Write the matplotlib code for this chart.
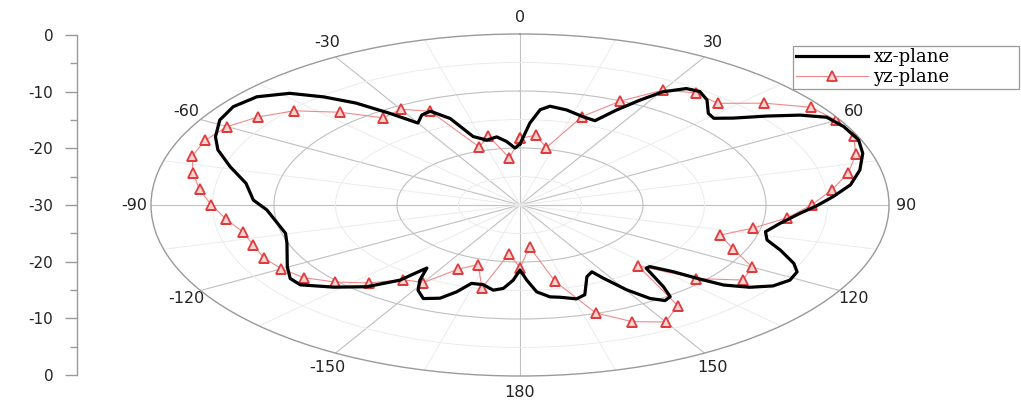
import numpy as np
import matplotlib
matplotlib.use("Agg")
import matplotlib.pyplot as plt
from matplotlib.ticker import FixedLocator

# ---------------- data ----------------
xz_theta_deg = [0, 3.2, 5.6, 8.0, 12.8, 18.4, 22.4, 25.2, 27.9, 30.3, 33.5, 36.3, 39.5, 43.6,
                46.0, 48.7, 52.1, 55.3, 58.3, 62.4, 67.5, 72.0, 77.5, 82.5, 86.7, 90.4, 93.7,
                98.6, 103.2, 107.0, 110.5, 114.7, 117.5, 121.0, 124.6, 127.7, 130.3, 131.6,
                133.2, 135.7, 137.2, 140.9, 142.8, 144.9, 147.2, 149.8, 152.2, 153.5, 156.6,
                161.5, 164.4, 168.7, 171.4, 174.9, 177.6, 180.0, 182.4, 185.3, 188.3, 192.0,
                196.0, 198.7, 201.7, 205.6, 209.0, 211.7, 214.4, 215.6, 216.5, 221.0, 226.4,
                231.9, 235.4, 240.2, 250.5, 255.4, 267.6, 272.3, 279.7, 285.9, 291.5, 295.8,
                301.4, 306.5, 311.6, 316.3, 319.9, 323.3, 326.7, 330.0, 333.2, 336.1, 339.5,
                342.4, 346.7, 351.0, 354.4, 357.7, 360.0]
xz_db = [-19.3, -15.6, -13.2, -12.5, -12.9, -13.7, -14.0, -11.6, -9.2, -7.0, -5.5, -5.3, -6.1,
         -7.8, -8.1, -6.9, -4.6, -2.3, -0.7, -0.3, -0.2, -0.7, -1.7, -2.9, -4.5, -5.9, -7.2,
         -8.6, -9.5, -9.0, -7.4, -5.5, -4.6, -4.4, -5.0, -6.4, -8.3, -10.4, -12.9, -14.9,
         -14.9, -11.5, -9.8, -9.5, -10.5, -12.8, -15.5, -16.9, -16.3, -13.4, -12.9, -13.5,
         -13.7, -14.7, -16.8, -18.6, -16.8, -15.3, -14.9, -15.7, -15.7, -13.9, -12.4, -11.8,
         -12.9, -14.5, -16.6, -15.1, -13.6, -11.0, -9.1, -7.3, -7.3, -8.2, -9.9, -10.3, -9.4,
         -8.3, -7.4, -5.5, -3.6, -2.5, -1.4, -1.0, -1.4, -2.9, -5.2, -7.7, -10.8, -13.4,
         -12.3, -12.0, -13.8, -17.4, -18.3, -17.9, -18.8, -20.0, -19.3]

yz_theta_deg = list(range(0, 366, 6))
yz_db = [-18.3, -17.7, -19.7, -13.7, -10.1, -6.7, -5.7, -6.0, -3.3, -0.8,
         -0.3, -0.3, -1.3, -2.7, -4.5, -6.3, -8.2, -10.6, -12.9, -11.0,
         -8.2, -7.6, -10.7, -15.7, -8.2, -6.3, -7.6, -10.1, -16.3, -22.6,
         -19.0, -21.4, -15.1, -19.0, -17.7, -14.3, -13.8, -11.6, -9.8, -8.3,
         -7.6, -7.2, -7.2, -7.0, -6.0, -4.9, -3.8, -2.8, -2.0, -2.0,
         -2.5, -3.7, -5.3, -8.1, -11.1, -10.6, -12.0, -19.3, -17.6, -21.7,
         -18.3]

angle_ticks = [0, 30, 60, 90, 120, 150, 180, 210, 240, 270, 300, 330]
angle_labels = ["0", "30", "60", "90", "120", "150", "180", "-150", "-120", "-90", "-60", "-30"]
left_ticks = [-30, -20, -10, 0, 10, 20, 30]
left_labels = ["0", "-10", "-20", "-30", "-20", "-10", "0"]
series_names = ["xz-plane", "yz-plane"]

# ---------------- figure ----------------
W, H = 1021, 401
fig = plt.figure(figsize=(W / 100, H / 100), dpi=100)
fig.patch.set_facecolor("white")

cx, cy, rx, ry = 520, 205, 369, 171
ax = fig.add_axes([(cx - rx) / W, (H - cy - ry) / H, 2 * rx / W, 2 * ry / H],
                  projection="polar")
ax.set_aspect("auto")
ax.set_theta_zero_location("N")
ax.set_theta_direction(-1)
ax.set_ylim(-30, 0)

ax.set_thetagrids(angle_ticks, angle_labels)
ax.xaxis.set_minor_locator(FixedLocator(np.deg2rad(np.arange(15, 360, 30))))
ax.set_yticks([-20, -10])
ax.set_yticklabels([])
ax.yaxis.set_minor_locator(FixedLocator([-25, -15, -5]))
ax.grid(True, which="major", color="#c0c0c0", linewidth=0.8)
ax.grid(True, which="minor", color="#ebebeb", linewidth=0.7)
ax.tick_params(axis="x", which="major", pad=5, labelsize=11.5, colors="#222222",
               length=0)
ax.tick_params(axis="x", which="minor", length=0)
ax.tick_params(axis="y", which="both", length=0)
for lab in ax.get_xticklabels():
    lab.set_color("#222222")
ax.spines["polar"].set_color("#9a9a9a")
ax.spines["polar"].set_linewidth(1.0)

l1, = ax.plot(np.deg2rad(xz_theta_deg), xz_db, color="black", linewidth=2.3,
              label=series_names[0], zorder=4, solid_joinstyle="round")
l2, = ax.plot(np.deg2rad(yz_theta_deg), yz_db, color="#f08a8a", linewidth=0.8,
              marker="^", markersize=7, markerfacecolor="#fbd3d3",
              markeredgecolor="#e03a3a", markeredgewidth=1.3,
              label=series_names[1], zorder=3)

leg = fig.legend(handles=[l1, l2], loc="lower left",
                 bbox_to_anchor=(793 / W, (H - 89) / H, (1019 - 793) / W, (89 - 47) / H),
                 mode="expand", frameon=True, fancybox=False, framealpha=1,
                 edgecolor="#999999", handlelength=4.0, handletextpad=0.3,
                 borderpad=0.15, labelspacing=0.1, borderaxespad=0,
                 prop={"family": "DejaVu Serif", "size": 13})
leg.get_frame().set_linewidth(0.9)

# left radial scale axis
lax = fig.add_axes([77 / W, (H - 375) / H, 0.001, (375 - 35) / H])
lax.set_ylim(-30, 30)
lax.set_yticks(left_ticks)
lax.set_yticklabels(left_labels)
lax.yaxis.set_minor_locator(FixedLocator([-25, -15, -5, 5, 15, 25]))
lax.set_xticks([])
for s in ["top", "right", "bottom"]:
    lax.spines[s].set_visible(False)
lax.spines["left"].set_color("#999999")
lax.spines["left"].set_linewidth(1.0)
lax.patch.set_visible(False)
lax.tick_params(axis="y", which="major", length=9, width=1.0, color="#999999",
                direction="out", pad=8, labelsize=11, labelcolor="#222222")
lax.tick_params(axis="y", which="minor", length=5, width=1.0, color="#999999",
                direction="out")

fig.savefig("out.png", dpi=100, facecolor="white")
